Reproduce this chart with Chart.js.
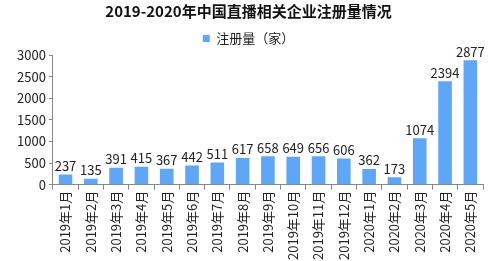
<!DOCTYPE html>
<html>
<head>
<meta charset="utf-8">
<script src="https://cdn.jsdelivr.net/npm/chart.js@4"></script>
<style>
  body { margin: 0; background: #fff; }
  .chart-box { width: 489px; height: 261px; }
</style>
</head>
<body>
<div class="chart-box"><canvas id="chart"></canvas></div>
<script>
const months = [
  "2019年1月", "2019年2月", "2019年3月", "2019年4月", "2019年5月", "2019年6月",
  "2019年7月", "2019年8月", "2019年9月", "2019年10月", "2019年11月", "2019年12月",
  "2020年1月", "2020年2月", "2020年3月", "2020年4月", "2020年5月"
];
const registrations = [237, 135, 391, 415, 367, 442, 511, 617, 658, 649, 656, 606, 362, 173, 1074, 2394, 2877];
const yTicks = [0, 500, 1000, 1500, 2000, 2500, 3000];

const font = "'Noto Sans CJK SC', 'DejaVu Sans', sans-serif";

// draw the value above each bar
const valueLabels = {
  id: "valueLabels",
  afterDatasetsDraw(chart) {
    const ctx = chart.ctx;
    ctx.save();
    ctx.font = "13px " + font;
    ctx.fillStyle = "#222";
    ctx.textAlign = "center";
    ctx.textBaseline = "bottom";
    chart.getDatasetMeta(0).data.forEach((bar, i) => {
      ctx.fillText(registrations[i], bar.x, bar.y - 2);
    });
    ctx.restore();
  }
};

new Chart(document.getElementById("chart"), {
  type: "bar",
  data: {
    labels: months,
    datasets: [{
      label: "注册量（家）",
      data: registrations,
      backgroundColor: "#5ea6f7",
      borderWidth: 0,
      barPercentage: 0.56,
      categoryPercentage: 0.96
    }]
  },
  options: {
    responsive: true,
    maintainAspectRatio: false,
    animation: false,
    layout: { padding: { left: 14, right: 6, top: 0, bottom: 0 } },
    scales: {
      x: {
        grid: { display: true, drawOnChartArea: false, offset: true, color: "#888", tickLength: 5 },
        border: { color: "#888" },
        ticks: {
          autoSkip: false, minRotation: 90, maxRotation: 90,
          color: "#222", font: { family: font, size: 13 }, padding: 1
        }
      },
      y: {
        min: 0, max: 3000,
        afterBuildTicks(axis) { axis.ticks = yTicks.map(v => ({ value: v })); },
        grid: { display: true, drawOnChartArea: false, color: "#888", tickLength: 4 },
        border: { color: "#888" },
        ticks: {
          color: "#222", font: { family: font, size: 13 }, padding: 3,
          callback: v => String(v)
        }
      }
    },
    plugins: {
      title: {
        display: true,
        text: "2019-2020年中国直播相关企业注册量情况",
        color: "#111",
        font: { family: font, size: 15, weight: "bold" },
        padding: { top: 2, bottom: 7 }
      },
      legend: {
        position: "top",
        labels: {
          boxWidth: 7, boxHeight: 7, color: "#222",
          font: { family: font, size: 13 }, padding: 5
        }
      },
      tooltip: { enabled: false }
    }
  },
  plugins: [valueLabels]
});
</script>
</body>
</html>
